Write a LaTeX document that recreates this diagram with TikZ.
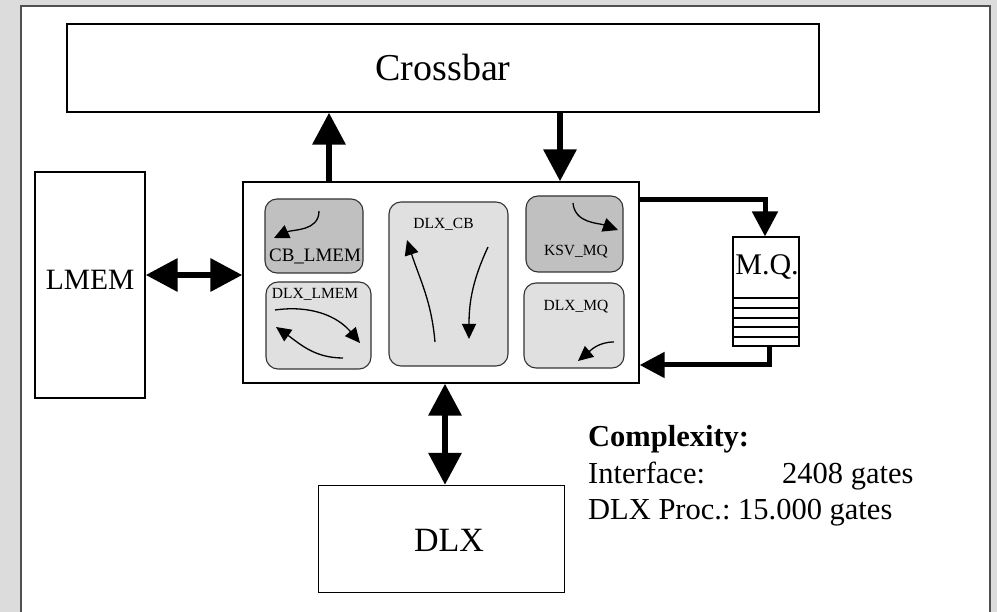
\documentclass[tikz,border=0pt]{standalone}
\usepackage{fontspec}
\setmainfont{Liberation Serif}
\usetikzlibrary{arrows.meta}

\definecolor{pagegray}{HTML}{DCDCDC}
\definecolor{framegray}{HTML}{505050}
\definecolor{unitdark}{HTML}{C0C0C0}
\definecolor{unitlight}{HTML}{E0E0E0}

\tikzset{
  fs/.style={font=\fontsize{#1}{#1}\selectfont},
  block/.style={draw=black, line width=1.3pt, fill=white, inner sep=0pt},
  unitdk/.style={draw=black!80, line width=1.1pt, fill=unitdark, rounded corners=12pt, inner sep=0pt},
  unitlt/.style={draw=black!80, line width=1.1pt, fill=unitlight, rounded corners=12pt, inner sep=0pt},
  label/.style={inner sep=0pt, anchor=center},
  bus/.style={line width=6.5pt, -{Triangle[width=32pt,length=32pt]}},
  busboth/.style={line width=6.5pt, {Triangle[width=32pt,length=32pt]}-{Triangle[width=32pt,length=32pt]}},
  qline/.style={line width=5pt, -{Triangle[width=25pt,length=25pt]}},
  flow/.style={line width=1.3pt, -{Triangle[width=14pt,length=15pt]}},
  figure/.style={font=\fontsize{30.5}{30.5}\selectfont, anchor=base west, inner sep=0pt},
}

\begin{document}
\begin{tikzpicture}[x=1pt,y=-1pt]
  \useasboundingbox (0,0) rectangle (997,612);
  % page and frame
  \fill[pagegray] (0,0) rectangle (997,612);
  \fill[white] (21,6) rectangle (990,612);
  \draw[framegray, line width=2pt] (21,612) -- (21,6) -- (990,6) -- (990,612);

  % main blocks
  \node[block, minimum width=752pt, minimum height=88pt, fs=38] (xbar) at (443,68) {Crossbar};
  \node[block, minimum width=110pt, minimum height=226pt] (lmem) at (90,285) {};
  \node[fs=29.5, label] (lmemtxt) at (90,280) {LMEM};
  \node[block, minimum width=396pt, minimum height=201pt] (iface) at (441,282.5) {};
  \node[block, minimum width=246pt, minimum height=107pt] (dlx) at (441.5,539) {};
  \node[fs=34, label] (dlxtxt) at (449,540) {DLX};

  % interface units
  \node[unitdk, minimum width=98pt, minimum height=74pt] (cblmem) at (314,236) {};
  \node[unitlt, minimum width=105pt, minimum height=87pt] (dlxlmem) at (318.5,325.5) {};
  \node[unitlt, minimum width=119pt, minimum height=164pt] (dlxcb) at (448.5,284) {};
  \node[unitdk, minimum width=97pt, minimum height=76pt] (ksvmq) at (574.5,234) {};
  \node[unitlt, minimum width=100pt, minimum height=85pt] (dlxmq) at (574,325.5) {};

  \node[fs=19, label] (cblmemtxt) at (315,256) {CB\_LMEM};
  \node[fs=15.5, label] (dlxlmemtxt) at (315,294) {DLX\_LMEM};
  \node[fs=15.5, label] (dlxcbtxt) at (443.5,224) {DLX\_CB};
  \node[fs=15.5, label] (ksvmqtxt) at (576,252) {KSV\_MQ};
  \node[fs=15.5, label] (dlxmqtxt) at (576,307) {DLX\_MQ};

  % message queue
  \node[block, line width=1.1pt, minimum width=66pt, minimum height=109pt] (mq) at (766,291.5) {};
  \node[fs=30, label] (mqtxt) at (767,267) {M.Q.};
  \foreach \yy in {298,308,318,327,337}
    \draw[line width=1.1pt] (mq.west |- 0,\yy) -- (mq.east |- 0,\yy);

  % data flow inside the units
  \coordinate (a1) at (319,211);  \coordinate (a2) at (274,238);
  \draw[flow] (a1) to[out=-90,in=25] (a2);
  \coordinate (b1) at (275,310);  \coordinate (b2) at (360,343);
  \draw[flow] (b1) to[out=8,in=130] (b2);
  \coordinate (c1) at (343,358);  \coordinate (c2) at (276,327);
  \draw[flow] (c1) to[out=180,in=-35] (c2);
  \coordinate (d1) at (435,342);  \coordinate (d2) at (407,240);
  \draw[flow] (d1) to[out=95,in=-72] (d2);
  \coordinate (e1) at (488,247);  \coordinate (e2) at (469,339);
  \draw[flow] (e1) to[out=-115,in=90] (e2);
  \coordinate (f1) at (573,203);  \coordinate (f2) at (618,230);
  \draw[flow] (f1) to[out=-85,in=160] (f2);
  \coordinate (g1) at (614,342);  \coordinate (g2) at (578,361);
  \draw[flow] (g1) to[out=180,in=40] (g2);

  % buses between blocks
  \draw[bus] (iface.north -| 329,0) -- (xbar.south -| 329,0);
  \draw[bus] (xbar.south -| 560,0) -- (iface.north -| 560,0);
  \draw[busboth] (lmem.east |- 0,275) -- (iface.west |- 0,275);
  \draw[busboth] (iface.south -| 445,0) -- (dlx.north -| 445,0);
  \draw[qline] (iface.east |- 0,200) -| (mq.north -| 765,0);
  \draw[qline] (mq.south -| 769,0) |- (iface.east |- 0,365);

  % complexity figures
  \node[figure] (cx) at (588,447) {\bfseries Complexity:};
  \node[figure] (cx1) at (588,484) {\makebox[194pt][l]{Interface:}2408 gates};
  \node[figure] (cx2) at (588,519) {\makebox[150pt][l]{DLX Proc.:}15.000 gates};
\end{tikzpicture}
\end{document}
